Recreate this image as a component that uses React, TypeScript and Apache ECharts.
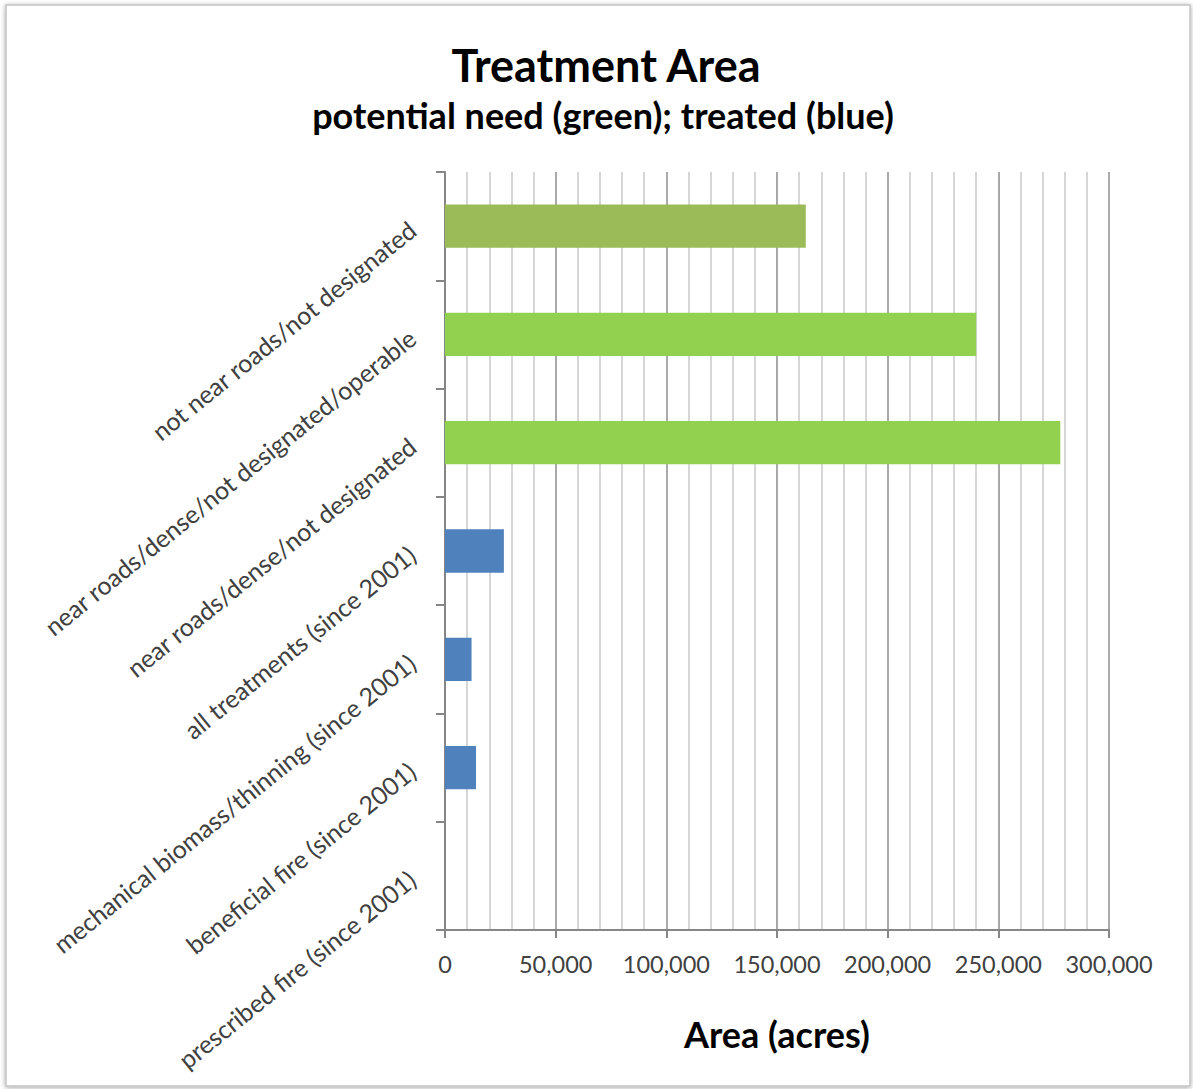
import React, { useEffect, useRef } from "react";
import * as echarts from "echarts";

// Categories listed top to bottom
const categories: string[] = [
  "not near roads/not designated",
  "near roads/dense/not designated/operable",
  "near roads/dense/not designated",
  "all treatments (since 2001)",
  "mechanical biomass/thinning (since 2001)",
  "beneficial fire (since 2001)",
  "prescribed fire (since 2001)",
];

// Area in acres for each category
const areaValues: number[] = [163000, 240000, 278000, 26600, 12000, 14000, 0];

// Bar colours: need (greens) and treated (blue)
const barColors: string[] = [
  "#9BBB59",
  "#92D050",
  "#92D050",
  "#4F81BD",
  "#4F81BD",
  "#4F81BD",
  "#4F81BD",
];

const titleText = "Treatment Area";
const subtitleText = "potential need (green); treated (blue)";
const axisTitle = "Area (acres)";
const xMin = 0;
const xMax = 300000;
const xStep = 50000;

const FONT = "Lato, Carlito, Calibri, sans-serif";

export default function App() {
  const ref = useRef<HTMLDivElement>(null);

  useEffect(() => {
    if (!ref.current) return;
    const chart = echarts.init(ref.current, undefined, { renderer: "svg" });
    chart.setOption({
      animation: false,
      backgroundColor: "#ffffff",
      graphic: [
        {
          type: "rect",
          z: -10,
          shape: { x: 6, y: 5, width: 1184, height: 1081 },
          style: {
            fill: "#ffffff",
            stroke: "#c4c4c4",
            lineWidth: 1.5,
            shadowBlur: 5,
            shadowColor: "rgba(0,0,0,0.35)",
            shadowOffsetX: 0,
            shadowOffsetY: 1,
          },
          silent: true,
        },
      ],
      title: [
        {
          text: titleText,
          left: 601,
          top: 37,
          textAlign: "center",
          textStyle: {
            fontFamily: FONT,
            fontWeight: "bold",
            fontSize: 45,
            color: "#000000",
          },
        },
        {
          text: subtitleText,
          left: 598,
          top: 92,
          textAlign: "center",
          textStyle: {
            fontFamily: FONT,
            fontWeight: "bold",
            fontSize: 36,
            color: "#000000",
          },
        },
      ],
      grid: {
        left: 445,
        right: 84,
        top: 172,
        bottom: 159,
        containLabel: false,
      },
      xAxis: {
        type: "value",
        min: xMin,
        max: xMax,
        interval: xStep,
        name: axisTitle,
        nameLocation: "middle",
        nameGap: 86,
        nameTextStyle: {
          fontFamily: FONT,
          fontWeight: "bold",
          fontSize: 36,
          color: "#000000",
        },
        axisLine: { show: true, lineStyle: { color: "#868686", width: 2 } },
        axisTick: { show: true, length: 8, lineStyle: { color: "#868686", width: 2 } },
        axisLabel: {
          margin: 22,
          fontFamily: FONT,
          fontSize: 23.5,
          color: "#404040",
          formatter: (v: number) => v.toLocaleString("en-US"),
        },
        splitLine: { show: true, lineStyle: { color: "#8c8c8c", width: 1.5 } },
        minorTick: { show: false, splitNumber: 5 },
        minorSplitLine: { show: true, lineStyle: { color: "#c8c8c8", width: 1.5 } },
      },
      yAxis: {
        type: "category",
        data: categories,
        inverse: true,
        axisLine: { show: true, lineStyle: { color: "#868686", width: 2 } },
        axisTick: { show: true, length: 9, lineStyle: { color: "#868686", width: 2 } },
        axisLabel: {
          rotate: 39,
          margin: 33,
          fontFamily: FONT,
          fontSize: 25,
          color: "#404040",
        },
        splitLine: { show: false },
      },
      series: [
        {
          type: "bar",
          barWidth: "40%",
          data: areaValues.map((v, i) => ({
            value: v,
            itemStyle: { color: barColors[i] },
          })),
        },
      ],
    });
    return () => chart.dispose();
  }, []);

  return (
    <div
      ref={ref}
      style={{ position: "absolute", left: 0, top: 0, width: 1193, height: 1089 }}
    />
  );
}
